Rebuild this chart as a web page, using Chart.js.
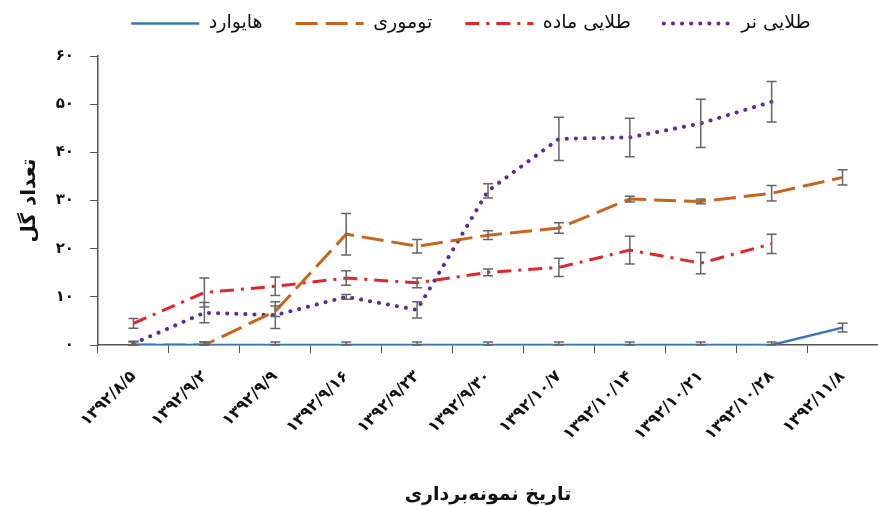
<!DOCTYPE html>
<html>
<head>
<meta charset="utf-8">
<script src="https://cdn.jsdelivr.net/npm/chart.js@4"></script>
<style>
  html, body { margin: 0; padding: 0; background: #fff; }
  #wrap { width: 878px; height: 506px; }
</style>
</head>
<body>
<div id="wrap"><canvas id="flowerChart" width="878" height="506"></canvas></div>
<script>
// sampling dates
const dates = ['۱۳۹۲/۸/۵', '۱۳۹۲/۹/۲', '۱۳۹۲/۹/۹', '۱۳۹۲/۹/۱۶', '۱۳۹۲/۹/۲۳', '۱۳۹۲/۹/۳۰',
  '۱۳۹۲/۱۰/۷', '۱۳۹۲/۱۰/۱۴', '۱۳۹۲/۱۰/۲۱', '۱۳۹۲/۱۰/۲۸', '۱۳۹۲/۱۱/۸'];

const yTickLabels = ['۰', '۱۰', '۲۰', '۳۰', '۴۰', '۵۰', '۶۰'];

// flower counts per cultivar
const hayward   = [0, 0, 0, 0, 0, 0, 0, 0, 0, 0, 3.6];
const tomuri    = [0, 0, 7, 23, 20.5, 22.8, 24.3, 30.3, 29.8, 31.5, 34.8];
const goldFem   = [4.5, 10.9, 12.2, 13.9, 12.9, 15.1, 16.1, 19.7, 17, 21, null];
const goldMale  = [0.3, 6.7, 6.2, 10, 7.3, 32, 42.8, 43.1, 46, 50.5, null];

// standard errors
const haywardErr  = [0.6, 0.6, 0.6, 0.6, 0.6, 0.6, 0.6, 0.6, 0.6, 0.6, 0.9];
const tomuriErr   = [0, 0.6, 1.1, 4.3, 1.4, 0.9, 1.1, 0.6, 0.5, 1.6, 1.6];
const goldFemErr  = [1, 3, 1.9, 1.5, 1, 0.7, 1.9, 2.9, 2.2, 2, null];
const goldMaleErr = [0.5, 2.1, 2.8, 0.5, 1.7, 1.5, 4.5, 4, 5, 4.2, null];

const errors = [haywardErr, tomuriErr, goldFemErr, goldMaleErr];
const persianFont = "'DejaVu Sans', sans-serif";

// draw error bars with caps using the y scale
const errorBars = {
  id: 'errorBars',
  afterDatasetsDraw(chart) {
    const ctx = chart.ctx;
    const y = chart.scales.y;
    ctx.save();
    ctx.strokeStyle = '#666';
    ctx.lineWidth = 1.5;
    chart.data.datasets.forEach((ds, di) => {
      const meta = chart.getDatasetMeta(di);
      const err = errors[di];
      meta.data.forEach((pt, i) => {
        const v = ds.data[i];
        const e = err[i];
        if (v == null || !e) return;
        const top = y.getPixelForValue(v + e);
        const bot = y.getPixelForValue(Math.max(v - e, 0));
        ctx.beginPath();
        ctx.moveTo(pt.x, top); ctx.lineTo(pt.x, bot);
        ctx.moveTo(pt.x - 5, top); ctx.lineTo(pt.x + 5, top);
        ctx.moveTo(pt.x - 5, bot); ctx.lineTo(pt.x + 5, bot);
        ctx.stroke();
      });
    });
    ctx.restore();
  }
};

// legend: fixed height and moved to match the original placement
const legendPlace = {
  id: 'legendPlace',
  beforeInit(chart) {
    const legend = chart.legend;
    const fit = legend.fit;
    legend.fit = function () {
      fit.call(this);
      this.height = 56;
    };
  },
  afterLayout(chart) {
    const l = chart.legend;
    const dx = 32, dy = -19;
    l.left += dx; l.right += dx;
    l.top += dy; l.bottom += dy;
  }
};

function initFlowerChart() {
  const ctx = document.getElementById('flowerChart').getContext('2d');
  new Chart(ctx, {
    type: 'line',
    data: {
      labels: dates,
      datasets: [
        { label: 'هایوارد', data: hayward, borderColor: '#3b76b8', borderWidth: 2.5 },
        { label: 'توموری', data: tomuri, borderColor: '#c9651d', borderWidth: 3, borderDash: [22, 8] },
        { label: 'طلایی ماده', data: goldFem, borderColor: '#e5242c', borderWidth: 3, borderDash: [14, 7, 3, 7] },
        { label: 'طلایی نر', data: goldMale, borderColor: '#5e2d94', borderWidth: 4, borderDash: [0.1, 9], borderCapStyle: 'round' }
      ]
    },
    options: {
      responsive: false,
      animation: false,
      spanGaps: false,
      elements: { point: { radius: 0 }, line: { tension: 0 } },
      layout: { padding: { top: 0, right: 0, left: 0, bottom: 0 } },
      plugins: {
        tooltip: { enabled: false },
        legend: {
          position: 'top',
          labels: {
            usePointStyle: true,
            pointStyle: 'line',
            pointStyleWidth: 68,
            padding: 33,
            color: '#111',
            font: { family: persianFont, size: 19 },
            generateLabels(chart) {
              const items = Chart.defaults.plugins.legend.labels.generateLabels(chart);
              items.forEach((it, i) => {
                const ds = chart.data.datasets[i];
                it.pointStyle = 'line';
                it.strokeStyle = ds.borderColor;
                it.lineWidth = ds.borderWidth;
                it.lineDash = ds.borderDash || [];
                it.lineCap = ds.borderCapStyle || 'butt';
              });
              return items;
            }
          }
        }
      },
      scales: {
        x: {
          offset: true,
          grid: { offset: true, drawOnChartArea: false, tickLength: 8, color: '#555' },
          border: { color: '#555', width: 1.5 },
          ticks: {
            maxRotation: 45, minRotation: 45,
            color: '#111',
            padding: 14,
            font: { family: persianFont, size: 16, weight: 'bold' }
          },
          title: {
            display: true,
            text: 'تاریخ نمونه‌برداری',
            color: '#111',
            font: { family: persianFont, size: 19, weight: 'bold' },
            padding: { top: 4, bottom: 0 }
          },
          afterFit: s => { s.height = 161; }
        },
        y: {
          min: 0, max: 60,
          grid: { drawOnChartArea: false, tickLength: 8, color: '#555' },
          border: { color: '#555', width: 1.5 },
          ticks: {
            stepSize: 10,
            color: '#111',
            padding: 16,
            font: { family: persianFont, size: 15, weight: 'bold' },
            callback: (val, i) => yTickLabels[i]
          },
          title: {
            display: true,
            text: 'تعداد گل',
            color: '#111',
            font: { family: persianFont, size: 20, weight: 'bold' },
            padding: { top: 18, bottom: 0 }
          },
          afterFit: s => { s.width = 98; }
        }
      }
    },
    plugins: [errorBars, legendPlace]
  });
}

document.addEventListener('DOMContentLoaded', () => {
  initFlowerChart();
});
</script>
</body>
</html>
